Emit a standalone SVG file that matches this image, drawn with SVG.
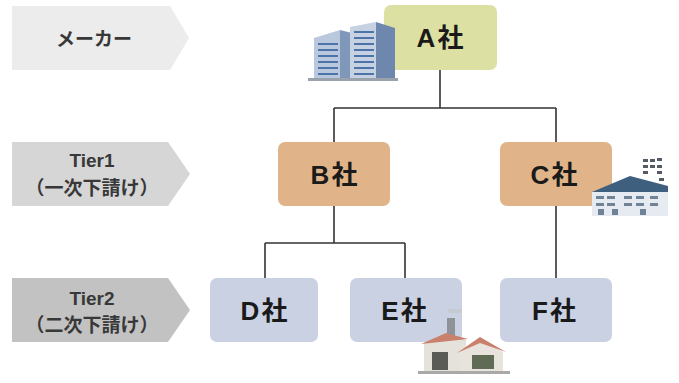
<svg xmlns="http://www.w3.org/2000/svg" width="679" height="383" viewBox="0 0 679 383">
  <style>
    .lbl { font-family: "Liberation Sans", "Noto Sans CJK JP", sans-serif; font-size: 19px; font-weight: bold; fill: #383838; text-anchor: middle; }
    .co { font-family: "Liberation Sans", "Noto Sans CJK JP", sans-serif; font-size: 26px; font-weight: bold; fill: #1a1a1a; text-anchor: middle; letter-spacing: 2px; }
    .wire { fill: none; stroke: #333; stroke-width: 1.6; }
  </style>
  <rect width="679" height="383" fill="#ffffff"/>

  <!-- tier labels -->
  <g id="tier-maker">
    <polygon points="12,6 170,6 189,38 170,70 12,70" fill="#ececec"/>
    <text class="lbl" x="94" y="46">メーカー</text>
  </g>
  <g id="tier-1">
    <polygon points="12,142 168,142 190,174 168,206 12,206" fill="#d6d6d6"/>
    <text class="lbl" x="92" y="167">Tier1</text>
    <text class="lbl" x="92" y="195">（一次下請け）</text>
  </g>
  <g id="tier-2">
    <polygon points="12,278 168,278 190,310 168,342 12,342" fill="#c2c2c2"/>
    <text class="lbl" x="92" y="305">Tier2</text>
    <text class="lbl" x="92" y="332">（二次下請け）</text>
  </g>

  <!-- connectors -->
  <g id="connectors">
    <path class="wire" d="M440,70 V108 M334,108 H556 M334,108 V142 M556,108 V142"/>
    <path class="wire" d="M334,206 V243 M265,243 H405 M265,243 V278 M405,243 V278"/>
    <path class="wire" d="M556,206 V278"/>
  </g>

  <!-- companies -->
  <g id="node-a">
    <rect x="384" y="5" width="113" height="65" rx="7" fill="#dde0a3"/>
    <text class="co" x="441" y="47">A社</text>
  </g>
  <g id="node-b">
    <rect x="278" y="142" width="112" height="64" rx="7" fill="#e0b488"/>
    <text class="co" x="335" y="184">B社</text>
  </g>
  <g id="node-c">
    <rect x="500" y="142" width="112" height="64" rx="7" fill="#e0b488"/>
    <text class="co" x="555" y="184">C社</text>
  </g>
  <g id="node-d">
    <rect x="210" y="278" width="108" height="64" rx="7" fill="#cad1e3"/>
    <text class="co" x="265" y="320">D社</text>
  </g>
  <g id="node-e">
    <rect x="350" y="278" width="112" height="64" rx="7" fill="#cad1e3"/>
    <text class="co" x="405" y="320">E社</text>
  </g>
  <g id="node-f">
    <rect x="500" y="278" width="112" height="64" rx="7" fill="#cad1e3"/>
    <text class="co" x="555" y="320">F社</text>
  </g>

  <!-- office building -->
  <g id="icon-office">
    <polygon points="314,38 340,30 340,80 314,78" fill="#b9c8dc"/>
    <polygon points="340,30 356,34 356,80 340,80" fill="#7f97b8"/>
    <polygon points="350,27 376,22 376,80 350,80" fill="#c6d2e2"/>
    <polygon points="376,22 395,28 395,78 376,80" fill="#6d87ad"/>
    <g stroke="#4d73a8" stroke-width="2">
      <path d="M318,44 H338 M318,50 H338 M318,56 H338 M318,62 H338 M318,68 H338 M318,74 H338"/>
      <path d="M354,32 H374 M354,38 H374 M354,44 H374 M354,50 H374 M354,56 H374 M354,62 H374 M354,68 H374 M354,74 H374"/>
    </g>
    <rect x="308" y="78" width="90" height="3" fill="#9aa3ad"/>
  </g>

  <!-- factory -->
  <g id="icon-factory">
    <g fill="#555c66">
      <rect x="643" y="159" width="5" height="3"/><rect x="650" y="159" width="5" height="3"/><rect x="657" y="158" width="5" height="3"/>
      <rect x="643" y="165" width="5" height="3"/><rect x="650" y="165" width="5" height="3"/><rect x="657" y="165" width="5" height="3"/>
      <rect x="643" y="171" width="5" height="3"/><rect x="657" y="171" width="5" height="3"/>
      <rect x="659" y="178" width="5" height="3"/>
    </g>
    <polygon points="592,192 630,176 668,186 668,192" fill="#3f5f7e"/>
    <rect x="592" y="192" width="76" height="24" fill="#e6ebf1"/>
    <g fill="#6f8296">
      <rect x="596" y="196" width="8" height="3"/><rect x="607" y="196" width="8" height="3"/><rect x="624" y="196" width="8" height="3"/><rect x="636" y="196" width="8" height="3"/><rect x="650" y="196" width="8" height="3"/>
      <rect x="596" y="203" width="8" height="3"/><rect x="607" y="203" width="8" height="3"/><rect x="624" y="203" width="8" height="3"/><rect x="636" y="203" width="8" height="3"/><rect x="650" y="203" width="8" height="3"/>
      <rect x="598" y="209" width="6" height="6"/><rect x="612" y="209" width="6" height="6"/><rect x="640" y="209" width="6" height="6"/>
    </g>
  </g>

  <!-- small workshop -->
  <g id="icon-workshop">
    <rect x="448" y="309" width="14" height="4" fill="#c5c9d0"/>
    <rect x="447" y="318" width="8" height="20" fill="#8f9399"/>
    <polygon points="424,343 446,335 466,340 466,372 424,372" fill="#e5e2dc"/>
    <polygon points="421,344 446,333 468,339" fill="#c9806c"/>
    <polygon points="460,352 480,340 503,352 503,372 460,372" fill="#e8e4dd"/>
    <polygon points="457,353 480,337 506,352 480,343" fill="#c9806c"/>
    <rect x="432" y="352" width="16" height="18" fill="#5a5a56"/>
    <rect x="472" y="355" width="22" height="14" fill="#5f6b55"/>
    <rect x="418" y="371" width="92" height="3" fill="#a9aaa7"/>
  </g>
</svg>
